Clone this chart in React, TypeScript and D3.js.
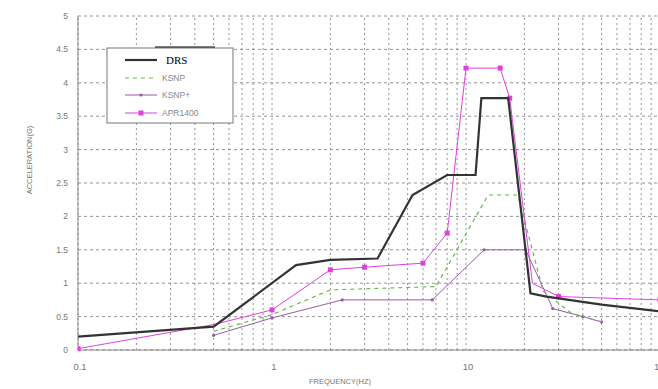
import React from "react";
import * as d3 from "d3";

const W = 658, H = 389;

const drsX = [0.1, 0.5, 1.33, 2, 3.5, 5.3, 8, 11.2, 12, 16.5, 21.5, 26, 50, 100];
const drsY = [0.2, 0.35, 1.27, 1.35, 1.37, 2.32, 2.62, 2.62, 3.77, 3.77, 0.85, 0.8, 0.68, 0.58];

const ksnpX = [0.5, 1, 2, 7, 13, 18.5, 25, 35, 50];
const ksnpY = [0.28, 0.53, 0.9, 0.95, 2.32, 2.32, 0.88, 0.55, 0.42];

const ksnpPlusX = [0.5, 1, 2.3, 6.7, 12.4, 20.3, 28, 40, 50];
const ksnpPlusY = [0.22, 0.48, 0.75, 0.75, 1.5, 1.5, 0.62, 0.5, 0.42];

const aprX = [0.1, 0.5, 1, 2, 3, 6, 8, 10, 15, 16.8, 22, 30, 100];
const aprY = [0.02, 0.38, 0.6, 1.2, 1.24, 1.3, 1.75, 4.22, 4.22, 3.77, 1.0, 0.8, 0.75];
const aprMarked = [true, false, true, true, true, true, true, true, true, true, false, true, true];

const xTickLabels = ["0.1", "1", "10", "100"];
const xTickValues = [0.1, 1, 10, 100];
const yTickValues = [0, 0.5, 1, 1.5, 2, 2.5, 3, 3.5, 4, 4.5, 5];
const yTickLabels = ["0", "0.5", "1", "1.5", "2", "2.5", "3", "3.5", "4", "4.5", "5"];

const legendNames = ["DRS", "KSNP", "KSNP+", "APR1400"];

export default function App() {
  const x = d3.scaleLog().domain([0.1, 100]).range([78, 660]);
  const y = d3.scaleLinear().domain([0, 5]).range([350, 16]);
  const line = d3.line<[number, number]>().x((d) => x(d[0])).y((d) => y(d[1]));
  const zip = (a: number[], b: number[]) => a.map((v, i) => [v, b[i]] as [number, number]);

  const vGrid: number[] = [];
  for (let e = -1; e < 2; e++) {
    for (let m = 1; m <= 9; m++) vGrid.push(m * Math.pow(10, e));
  }
  vGrid.push(100);

  const gridColor = "#888";
  const cDRS = "#333";
  const cKSNP = "#66bb44";
  const cKSNPp = "#9a5aa8";
  const cAPR = "#e040e0";

  const legX = 107, legY = 48, legW = 126, legH = 75;
  const rows = [60, 78, 95, 113];

  return (
    <svg width={W} height={H} style={{ position: "absolute", left: 0, top: 0, background: "#fff" }}
      fontFamily="'Liberation Sans', Arial, sans-serif">
      <rect x={0} y={0} width={W} height={H} fill="#fff" />
      <defs>
        <clipPath id="plot">
          <rect x={78} y={10} width={590} height={345} />
        </clipPath>
      </defs>
      {vGrid.map((v, i) => (
        <line key={"v" + i} x1={x(v)} x2={x(v)} y1={y(0)} y2={y(5)} stroke={gridColor}
          strokeWidth={0.9} strokeDasharray="2,3" />
      ))}
      {yTickValues.map((v, i) => (
        <line key={"h" + i} x1={x(0.1)} x2={x(100)} y1={y(v)} y2={y(v)} stroke={gridColor}
          strokeWidth={0.9} strokeDasharray="3,3" />
      ))}
      <line x1={x(0.1)} x2={x(0.1)} y1={y(0)} y2={y(5)} stroke="#888" strokeWidth={1} />
      <line x1={x(0.1)} x2={x(100)} y1={y(0)} y2={y(0)} stroke="#888" strokeWidth={1} />
      {yTickValues.map((v, i) => (
        <text key={"yl" + i} x={68} y={y(v) + 3} textAnchor="end" fontSize={8.5} fill="#777">
          {yTickLabels[i]}
        </text>
      ))}
      {xTickValues.map((v, i) => (
        <text key={"xl" + i} x={x(v) + 2} y={370} textAnchor="middle" fontSize={9.5} fill="#777">
          {xTickLabels[i]}
        </text>
      ))}
      <text x={340} y={384} textAnchor="middle" fontSize={7.5} fill="#777">FREQUENCY(HZ)</text>
      <text transform={`translate(32,160) rotate(-90)`} textAnchor="middle" fontSize={7.5} fill="#777">
        ACCELERATION(G)
      </text>

      <g clipPath="url(#plot)">
        <path d={line(zip(ksnpPlusX, ksnpPlusY)) || ""} fill="none" stroke={cKSNPp} strokeWidth={1} />
        {zip(ksnpPlusX, ksnpPlusY).map((d, i) => (
          <circle key={"kp" + i} cx={x(d[0])} cy={y(d[1])} r={1.6} fill={cKSNPp} />
        ))}
        <path d={line(zip(ksnpX, ksnpY)) || ""} fill="none" stroke={cKSNP} strokeWidth={1.2}
          strokeDasharray="4,4" />
        <path d={line(zip(aprX, aprY)) || ""} fill="none" stroke={cAPR} strokeWidth={1} />
        {zip(aprX, aprY).map((d, i) =>
          aprMarked[i] ? (
            <rect key={"ap" + i} x={x(d[0]) - 2.5} y={y(d[1]) - 2.5} width={5} height={5} fill={cAPR} />
          ) : null
        )}
        <path d={line(zip(drsX, drsY)) || ""} fill="none" stroke={cDRS} strokeWidth={2.2} />
      </g>

      <rect x={legX} y={legY} width={legW} height={legH} fill="#fff" stroke="#777" strokeWidth={1} />
      <line x1={155} x2={215} y1={47} y2={47} stroke="#000" strokeWidth={1.2} />
      <line x1={125} x2={157} y1={rows[0]} y2={rows[0]} stroke={cDRS} strokeWidth={2.2} />
      <line x1={125} x2={157} y1={rows[1]} y2={rows[1]} stroke={cKSNP} strokeWidth={1.2} strokeDasharray="4,4" />
      <line x1={125} x2={157} y1={rows[2]} y2={rows[2]} stroke={cKSNPp} strokeWidth={1} />
      <circle cx={141} cy={rows[2]} r={1.6} fill={cKSNPp} />
      <line x1={125} x2={157} y1={rows[3]} y2={rows[3]} stroke={cAPR} strokeWidth={1} />
      <rect x={141 - 2.5} y={rows[3] - 2.5} width={5} height={5} fill={cAPR} />
      <text x={166} y={rows[0] + 4} fontSize={11} fontFamily="'Liberation Serif', serif" fill="#000">
        {legendNames[0]}
      </text>
      {[1, 2, 3].map((k) => (
        <text key={"lg" + k} x={162} y={rows[k] + 3} fontSize={8.5} fill="#888">
          {legendNames[k]}
        </text>
      ))}
    </svg>
  );
}
